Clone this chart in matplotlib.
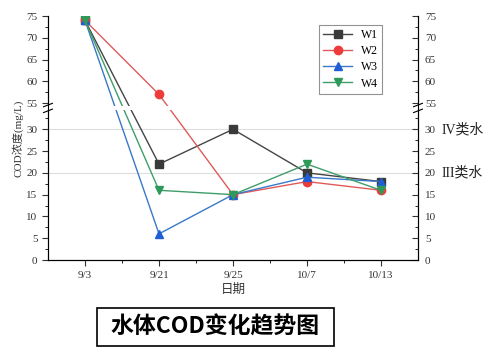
import numpy as np
import matplotlib.pyplot as plt
from matplotlib.patches import Rectangle

# data
dates = ['9/3', '9/21', '9/25', '10/7', '10/13']
w1 = [74, 22, 30, 20, 18]
w2 = [74, 57, 15, 18, 16]
w3 = [74, 6, 15, 19, 18]
w4 = [74, 16, 15, 22, 16]
low_ticks = [0, 5, 10, 15, 20, 25, 30]
high_ticks = [55, 60, 65, 70, 75]
class_lines = {30: 'IV类水', 20: 'III类水'}

plt.rcParams['font.family'] = ['Liberation Serif', 'Noto Sans CJK SC']

# broken axis: 33..55 squeezed into 3 units
def fwd(y):
    y = np.asarray(y, dtype=float)
    return np.where(y <= 33, y, np.where(y >= 55, y - 19, 33 + (y - 33) * 3 / 22))

def inv(t):
    t = np.asarray(t, dtype=float)
    return np.where(t <= 33, t, np.where(t >= 36, t + 19, 33 + (t - 33) * 22 / 3))

fig = plt.figure(figsize=(4.94, 3.57), dpi=100)
ax = fig.add_axes([48 / 494, 1 - 260 / 357, 370 / 494, 244 / 357])
ax.set_yscale('function', functions=(fwd, inv))
ax.set_ylim(0, 75)
ax.set_xlim(-0.5, 4.5)

x = np.arange(len(dates))
styles = [('W1', w1, '#454545', '#3a3a3a', 's'),
          ('W2', w2, '#e05a5a', '#ee3b3b', 'o'),
          ('W3', w3, '#3a78c8', '#1f5fd6', '^'),
          ('W4', w4, '#3f9d6a', '#2e9a5a', 'v')]
for name, vals, lc, mc, m in styles:
    ax.plot(x, vals, color=lc, lw=1, marker=m, ms=6, mfc=mc, mec=mc, label=name)

for yv in class_lines:
    ax.axhline(yv, color='#dddddd', lw=0.8, zorder=0)

# gap at the break (axes fraction of the squeezed zone)
top = float(fwd(75))
g0, g1 = 34.4 / top, 35.4 / top
ax.add_patch(Rectangle((-0.02, g0), 1.04, g1 - g0, transform=ax.transAxes,
                       facecolor='white', edgecolor='none', zorder=5, clip_on=False))
for xa in (0, 1):
    for yc in (g0 - 0.003, g1 + 0.003):
        ax.plot([xa - 0.012, xa + 0.012], [yc - 0.007, yc + 0.007], color='black', lw=0.8,
                transform=ax.transAxes, clip_on=False, zorder=6)

yt = low_ticks + high_ticks
ymin = [v + 2.5 for v in low_ticks] + [v + 2.5 for v in high_ticks[:-1]]
ax.set_yticks(yt)
ax.set_yticks(ymin, minor=True)
ax.set_xticks(x)
ax.set_xticklabels(dates)
ax.set_xticks(x[:-1] + 0.5, minor=True)
ax.spines['top'].set_visible(False)
ax.tick_params(axis='both', which='major', length=4, width=0.8, labelsize=8, colors='#333333')
ax.tick_params(axis='both', which='minor', length=2.5, width=0.6)
ax.tick_params(axis='x', pad=4)

ax2 = ax.twinx()
ax2.set_yscale('function', functions=(fwd, inv))
ax2.set_ylim(0, 75)
ax2.set_yticks(yt)
ax2.set_yticks(ymin, minor=True)
ax2.spines['top'].set_visible(False)
ax2.tick_params(axis='y', which='major', direction='in', length=4, width=0.8, labelsize=8,
                colors='#333333', pad=5)
ax2.tick_params(axis='y', which='minor', direction='in', length=2.5, width=0.6)
for yv, lab in class_lines.items():
    ax2.text(1.063, yv, lab, transform=ax2.get_yaxis_transform(), fontsize=10,
             va='center', ha='left', color='#222222')

ax.set_xlabel('日期', fontsize=9, color='#333333', labelpad=3)
ax.set_ylabel('COD浓度(mg/L)', fontsize=8, color='#333333', labelpad=2)

leg = ax.legend(loc='upper left', bbox_to_anchor=(0.732, 0.963), fontsize=8.5, fancybox=False,
                edgecolor='#777777', handlelength=2.5, borderpad=0.35, labelspacing=0.35,
                handletextpad=0.75, borderaxespad=0)
leg.get_frame().set_linewidth(0.8)

fig.patches.append(Rectangle((97 / 494, 1 - 346 / 357), 237 / 494, 38 / 357, fill=False,
                             edgecolor='black', lw=1.2, transform=fig.transFigure))
fig.text(215 / 494, 1 - 327 / 357, '水体COD变化趋势图', fontsize=16.5, fontweight='bold',
         family=['Noto Sans CJK SC'], ha='center', va='center')

fig.savefig('out.png', dpi=100)
